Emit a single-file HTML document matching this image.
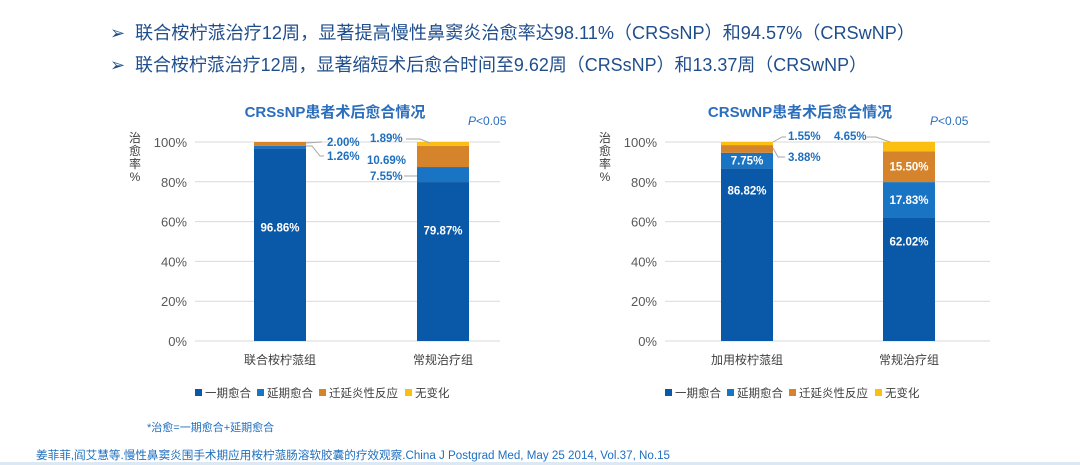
<!DOCTYPE html>
<html><head><meta charset="utf-8">
<style>
html,body{margin:0;padding:0;background:#fff;}
svg{display:block;font-family:"Liberation Sans","Noto Sans CJK SC",sans-serif;}
</style></head>
<body>
<svg id="root" width="1080" height="465" viewBox="0 0 1080 465" xmlns="http://www.w3.org/2000/svg">
  <rect x="0" y="0" width="1080" height="465" fill="#ffffff"/>
  <g fill="#1f4e8c" font-size="18">
    <text x="110" y="39">➢</text>
    <text x="135" y="39" textLength="780" lengthAdjust="spacingAndGlyphs">联合桉柠蒎治疗12周，显著提高慢性鼻窦炎治愈率达98.11%（CRSsNP）和94.57%（CRSwNP）</text>
    <text x="110" y="71">➢</text>
    <text x="135" y="71" textLength="732" lengthAdjust="spacingAndGlyphs">联合桉柠蒎治疗12周，显著缩短术后愈合时间至9.62周（CRSsNP）和13.37周（CRSwNP）</text>
  </g>
  <g id="chartL"></g>
  <g id="chartR"></g>
  <text x="147" y="431" font-size="11" fill="#1f6fbf">*治愈=一期愈合+延期愈合</text>
  <text x="36" y="459" font-size="11.5" fill="#1f6fbf" textLength="634" lengthAdjust="spacingAndGlyphs">姜菲菲,阎艾慧等.慢性鼻窦炎围手术期应用桉柠蒎肠溶软胶囊的疗效观察.China J Postgrad Med, May 25 2014, Vol.37, No.15</text>
  <rect x="0" y="462" width="1080" height="3" fill="#dce8f4"/>
</svg>
<script>
const seriesNames = ["一期愈合","延期愈合","迁延炎性反应","无变化"];
const seriesColors = ["#0a58a8","#1a74c4","#d5842c","#fbbf12"];
const yTicks = [0,20,40,60,80,100];
const catsL = ["联合桉柠蒎组","常规治疗组"];
const primaryL = [96.86, 79.87];
const delayedL = [1.26, 7.55];
const inflamL = [2.00, 10.69];
const nochangeL = [0, 1.89];
const catsR = ["加用桉柠蒎组","常规治疗组"];
const primaryR = [86.82, 62.02];
const delayedR = [7.75, 17.83];
const inflamR = [3.88, 15.50];
const nochangeR = [1.55, 4.65];

const NS = "http://www.w3.org/2000/svg";
function mk(parent, tag, attrs, text){
  const e = document.createElementNS(NS, tag);
  for (const k in attrs) e.setAttribute(k, attrs[k]);
  if (text !== undefined) e.textContent = text;
  parent.appendChild(e); return e;
}
function drawChart(g, cfg){
  const y = v => cfg.y0 - v/100*(cfg.y0 - cfg.y100);
  yTicks.forEach(t=>{
    const l = mk(g,'line',{x1:cfg.gx0,x2:cfg.gx1,y1:y(t),y2:y(t),stroke:'#d9d9d9','stroke-width':1});
    
    
    const tx = mk(g,'text',{x:cfg.gx0-8,y:y(t)+5,'text-anchor':'end','font-size':13,fill:'#595959'},t+'%');
    
    
  });
  const yt = mk(g,'text',{x:cfg.gx0-60,y:142,'font-size':12,fill:'#404040','text-anchor':'middle'});
  
  
  ['治','愈','率','%'].forEach((ch,k)=>{
    mk(yt,'tspan',{x:cfg.gx0-60,dy:k===0?0:13},ch);
  });
  const title = mk(g,'text',{x:cfg.titleX,y:117,'text-anchor':'middle','font-size':15,'font-weight':'bold',fill:'#2a6ebd'},cfg.title);
  
  
  const p = mk(g,'text',{x:cfg.pX,y:125,'font-size':12,fill:'#2a6ebd'});
  
  
  mk(p,'tspan',{'font-style':'italic'},'P');
  mk(p,'tspan',{},'<0.05');
  const series = cfg.series;
  cfg.cats.forEach((c,i)=>{
    const cx = cfg.barX[i];
    let acc = 0;
    series.forEach((arr,s)=>{
      const v = arr[i];
      if (v<=0) return;
      const top = Math.max(y(acc+v), cfg.y100);
      const r = mk(g,'rect',{x:cx-26,y:top,width:52,height:y(acc)-top,fill:seriesColors[s]});
      
      
      acc += v;
    });
    const cl = mk(g,'text',{x:cx,y:364,'text-anchor':'middle','font-size':12,fill:'#404040'},c);
    
    
  });
  cfg.labels.forEach(L=>{
    const v = series[L.s][L.i];
    const txt = v.toFixed(2)+'%';
    let yy;
    if (L.inside){
      let acc=0; for(let s=0;s<L.s;s++) acc+=series[s][L.i];
      yy = (y(acc)+y(acc+v))/2 + 4 + (L.dy||0);
    } else yy = L.y;
    if (L.line){
      const ln = mk(g,'polyline',{points:L.line,fill:'none',stroke:'#a6a6a6','stroke-width':1});
      
      
    }
    const t = mk(g,'text',{x:L.inside?cfg.barX[L.i]:L.x,y:yy,'text-anchor':L.inside?'middle':'start','font-size':11.5,'font-weight':'bold',fill:L.inside?'#ffffff':'#1f6fbf'},txt);
    
    
  });
  let lx = cfg.legX;
  const legW = [62,62,86,50];
  seriesNames.forEach((n,s)=>{
    const r = mk(g,'rect',{x:lx,y:389,width:7,height:7,fill:seriesColors[s]});
    
    
    const t = mk(g,'text',{x:lx+10,y:397,'font-size':11.5,fill:'#404040'},n);
    
    
    lx += legW[s];
  });
}
drawChart(document.getElementById('chartL'),{
  gx0:195,gx1:500,y0:341,y100:142,barX:[280,443],titleX:335,pX:468,legX:195,
  title:'CRSsNP患者术后愈合情况',cats:catsL,series:[primaryL,delayedL,inflamL,nochangeL],
  labels:[
    {s:0,i:0,inside:true,dy:-17},
    {s:2,i:0,x:327,y:146,line:'306,143 322,142'},
    {s:1,i:0,x:327,y:160,line:'306,146 312,146 320,156 324,156'},
    {s:3,i:1,x:370,y:142,line:'406,139 420,139 430,143'},
    {s:2,i:1,x:367,y:164},
    {s:1,i:1,x:370,y:180,line:'404,176 417,176'},
    {s:0,i:1,inside:true,dy:-31}
  ]
});
drawChart(document.getElementById('chartR'),{
  gx0:665,gx1:990,y0:341,y100:142,barX:[747,909],titleX:800,pX:930,legX:665,
  title:'CRSwNP患者术后愈合情况',cats:catsR,series:[primaryR,delayedR,inflamR,nochangeR],
  labels:[
    {s:3,i:0,x:788,y:140,line:'773,142 782,137 786,137'},
    {s:2,i:0,x:788,y:161,line:'773,148 778,157 785,157'},
    {s:1,i:0,inside:true},
    {s:0,i:0,inside:true,dy:-64},
    {s:3,i:1,x:834,y:140,line:'867,137 876,137 890,142'},
    {s:2,i:1,inside:true},
    {s:1,i:1,inside:true},
    {s:0,i:1,inside:true,dy:-38}
  ]
});
</script>
</body></html>
